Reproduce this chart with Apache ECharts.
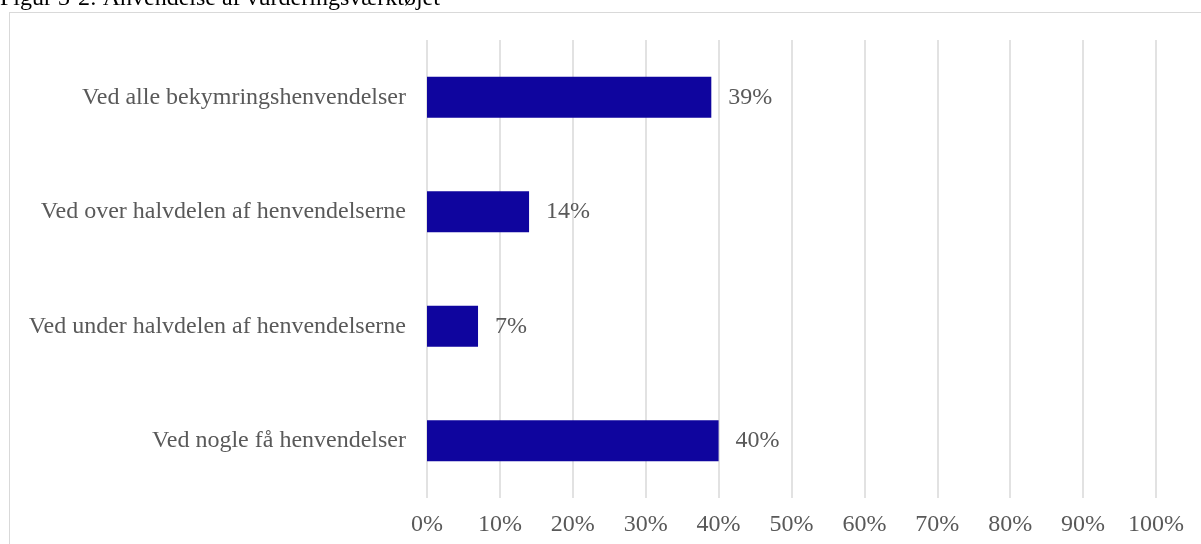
<!DOCTYPE html>
<html><head><meta charset="utf-8">
<script src="https://cdn.jsdelivr.net/npm/echarts@6/dist/echarts.min.js"></script>
<style>
html,body{margin:0;padding:0;background:#fff;overflow:hidden}
#frame{position:absolute;left:9px;top:12px;width:1210px;height:560px;border:1.5px solid #d9d9d9;box-sizing:border-box}
#c{position:absolute;left:0;top:0;width:1201px;height:544px}
</style></head>
<body>
<div id="frame"></div>
<div id="c"></div>
<script>
const titleText = "Figur 3-2: Anvendelse af vurderingsværktøjet";
const categories = ["Ved alle bekymringshenvendelser","Ved over halvdelen af henvendelserne","Ved under halvdelen af henvendelserne","Ved nogle få henvendelser"];
const values = [39, 14, 7, 40];
const xTicks = [0,10,20,30,40,50,60,70,80,90,100];

const chart = echarts.init(document.getElementById('c'), null, {renderer:'canvas'});
chart.setOption({
  animation:false,
  backgroundColor:'transparent',
  title:{text:titleText,left:0,top:-13,padding:0,textStyle:{fontFamily:'Liberation Serif',fontSize:24,fontWeight:'normal',color:'#000'}},
  grid:{left:427,right:45,top:40,bottom:46,containLabel:false},
  xAxis:{type:'value',min:xTicks[0],max:xTicks[xTicks.length-1],interval:10,
    axisLine:{show:false},axisTick:{show:false},
    splitLine:{show:true,lineStyle:{color:'#d9d9d9',width:1.5}},
    axisLabel:{formatter:v=>v+'%',fontFamily:'Liberation Serif',fontSize:24,color:'#595959',margin:15}},
  yAxis:{type:'category',data:categories,inverse:true,
    axisLine:{show:false},axisTick:{show:false},
    axisLabel:{fontFamily:'Liberation Serif',fontSize:24,color:'#595959',margin:21}},
  series:[{type:'bar',data:values,barWidth:41,
    itemStyle:{color:'#0f059e'},
    label:{show:true,position:'right',distance:17,formatter:p=>p.value+'%',fontFamily:'Liberation Serif',fontSize:24,color:'#595959'}}]
});
</script>
</body></html>
